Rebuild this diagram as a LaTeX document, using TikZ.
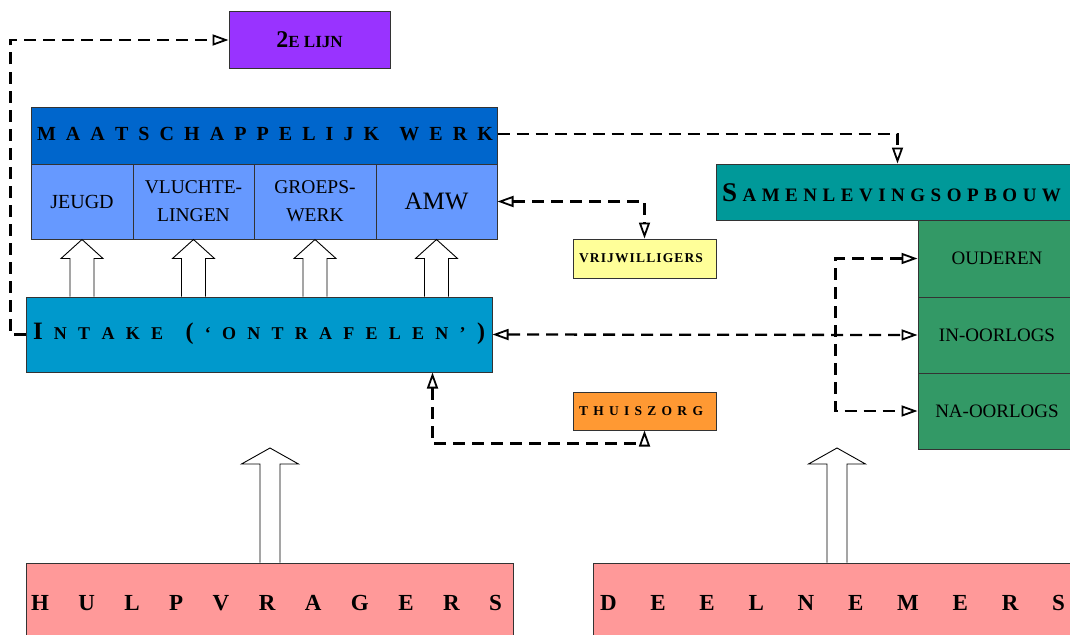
\documentclass[tikz,border=0pt]{standalone}
\usepackage{fontspec}
\setmainfont{Liberation Serif}
\usetikzlibrary{arrows.meta,calc}
\definecolor{cpurple}{HTML}{9933FF}
\definecolor{chead}{HTML}{0066CC}
\definecolor{csub}{HTML}{6699FF}
\definecolor{cintake}{HTML}{0099CC}
\definecolor{csamen}{HTML}{009999}
\definecolor{cgreen}{HTML}{339966}
\definecolor{cyellow}{HTML}{FFFF99}
\definecolor{corange}{HTML}{FF9933}
\definecolor{cpink}{HTML}{FF9999}
\newcommand{\fs}[1]{\fontsize{#1}{#1}\selectfont}
\newcommand{\blockarrow}[5]{%
  \draw[blockarr] let \p1=(#1), \p2=(#2) in
    (\x2-#3,\y1) -- (\x2-#3,\y2-#5) -- (\x2-#4,\y2-#5) -- (\x2,\y2)
    -- (\x2+#4,\y2-#5) -- (\x2+#3,\y2-#5) -- (\x2+#3,\y1);}
\tikzset{
  tri/.tip={Triangle[length=16pt,width=11pt,fill=white,line width=1.8pt]},
  box/.style={draw=black!80, line width=1pt, inner sep=0pt, rectangle},
  txt/.style={inner sep=0pt, text=black},
  conn/.style={line width=2.3pt, dash pattern=on 12pt off 7pt, -tri},
  conn2/.style={line width=2.3pt, dash pattern=on 12pt off 7pt, tri-tri},
  blockarr/.style={draw=black, line width=0.9pt, fill=white},
}
\begin{document}
\begin{tikzpicture}[x=1pt,y=-1pt]
\useasboundingbox (0,0) rectangle (1070,634);
% top purple box
\node[box, fill=cpurple, minimum width=161pt, minimum height=56pt, font=\bfseries] (lijn) at (309.5,40)
  {{\fs{24}2}{\fs{17}E LIJN}};
% maatschappelijk werk
\node[box, fill=chead, minimum width=466pt, minimum height=57pt] (mw) at (264,135.5) {};
\node[txt, font=\bfseries\fs{20}] (mwtxt) at (265,134)
  {\makebox[456pt][s]{M\hfill A\hfill A\hfill T\hfill S\hfill C\hfill H\hfill A\hfill P\hfill P\hfill E\hfill L\hfill I\hfill J\hfill K\hfill\hfill W\hfill E\hfill R\hfill K}};
\node[box, fill=csub, minimum width=102pt, minimum height=75pt, font=\fs{20}] (jeugd) at (82,201.5) {JEUGD};
\node[box, fill=csub, minimum width=121pt, minimum height=75pt, font=\fontsize{19.5}{28}\selectfont, align=center] (vlucht) at (193.5,201.5) {VLUCHTE-\\LINGEN};
\node[box, fill=csub, minimum width=122pt, minimum height=75pt, font=\fontsize{19.5}{28}\selectfont, align=center] (groeps) at (315,201.5) {GROEPS-\\WERK};
\node[box, fill=csub, minimum width=121pt, minimum height=75pt, font=\fs{25}] (amw) at (436.5,201.5) {AMW};
% intake
\node[box, fill=cintake, minimum width=466pt, minimum height=75pt] (intake) at (259,334.5) {};
\node[txt, font=\bfseries\fs{18}] (intxt) at (259,334)
  {\makebox[452pt][s]{{\fs{25}I}\hfill N\hfill T\hfill A\hfill K\hfill E\hfill\hfill {\fs{24}(}\hfill ‘\hfill O\hfill N\hfill T\hfill R\hfill A\hfill F\hfill E\hfill L\hfill E\hfill N\hfill ’\hfill {\fs{24})}}};
% samenlevingsopbouw
\node[box, fill=csamen, minimum width=364pt, minimum height=56pt] (samen) at (898,192) {};
\node[txt, font=\bfseries\fs{19}] (samentxt) at (891.5,193)
  {\makebox[339pt][s]{{\fs{27}S}\hfill A\hfill M\hfill E\hfill N\hfill L\hfill E\hfill V\hfill I\hfill N\hfill G\hfill S\hfill O\hfill P\hfill B\hfill O\hfill U\hfill W}};
\node[box, fill=cgreen, minimum width=158pt, minimum height=77pt, font=\fs{19}] (ouder) at (997,258.5) {OUDEREN};
\node[box, fill=cgreen, minimum width=158pt, minimum height=76pt, font=\fs{19}] (inoorl) at (997,335) {IN-OORLOGS};
\node[box, fill=cgreen, minimum width=158pt, minimum height=76pt, font=\fs{19}] (naoorl) at (997,411) {NA-OORLOGS};
% small boxes
\node[box, fill=cyellow, minimum width=143pt, minimum height=39pt] (vrij) at (644.5,258.5) {};
\node[txt, font=\bfseries\fs{13.5}] (vrijtxt) at (641,258.5)
  {\makebox[124pt][s]{V\hfill R\hfill I\hfill J\hfill W\hfill I\hfill L\hfill L\hfill I\hfill G\hfill E\hfill R\hfill S}};
\node[box, fill=corange, minimum width=143pt, minimum height=38pt] (thuis) at (644.5,411) {};
\node[txt, font=\bfseries\fs{13.5}] (thuistxt) at (641,411)
  {\makebox[124pt][s]{T\hfill H\hfill U\hfill I\hfill S\hfill Z\hfill O\hfill R\hfill G}};
% bottom boxes
\node[box, fill=cpink, minimum width=487pt, minimum height=80pt] (hulp) at (269.5,603) {};
\node[txt, font=\bfseries\fs{23}] (hulptxt) at (266.5,603)
  {\makebox[471pt][s]{H\hfill U\hfill L\hfill P\hfill V\hfill R\hfill A\hfill G\hfill E\hfill R\hfill S}};
\node[box, fill=cpink, minimum width=490pt, minimum height=80pt] (deel) at (838,603) {};
\node[txt, font=\bfseries\fs{23}] (deeltxt) at (832.5,603)
  {\makebox[465pt][s]{D\hfill E\hfill E\hfill L\hfill N\hfill E\hfill M\hfill E\hfill R\hfill S}};
% block arrows
\blockarrow{jeugd.south |- intake.north}{jeugd.south}{12pt}{21pt}{19pt}
\blockarrow{vlucht.south |- intake.north}{vlucht.south}{12pt}{21pt}{19pt}
\blockarrow{groeps.south |- intake.north}{groeps.south}{12pt}{21pt}{19pt}
\blockarrow{amw.south |- intake.north}{amw.south}{12pt}{21pt}{19pt}
\coordinate (htip) at (270,448);
\coordinate (dtip) at (837,448);
\blockarrow{htip |- hulp.north}{htip}{10pt}{28.5pt}{16pt}
\blockarrow{dtip |- deel.north}{dtip}{10pt}{28.5pt}{16pt}
% dashed connectors
\draw[conn] (intake.west) -- ++(-15,0) |- (lijn.west);
\coordinate (stop) at ($(samen.north west)+(182,0)$);
\draw[conn] (mw.east |- 0,134) -| (stop);
\draw[conn2] (amw.east) -| (vrij.north);
\coordinate (ibot) at ($(intake.south east)+(-60,0)$);
\draw[conn2] (ibot) -- ++(0,71) -| (thuis.south);
\draw[conn2] (intake.east) -- (inoorl.west);
\draw[conn2] (ouder.west) -- ++(-82,0) |- (naoorl.west);
\end{tikzpicture}
\end{document}
